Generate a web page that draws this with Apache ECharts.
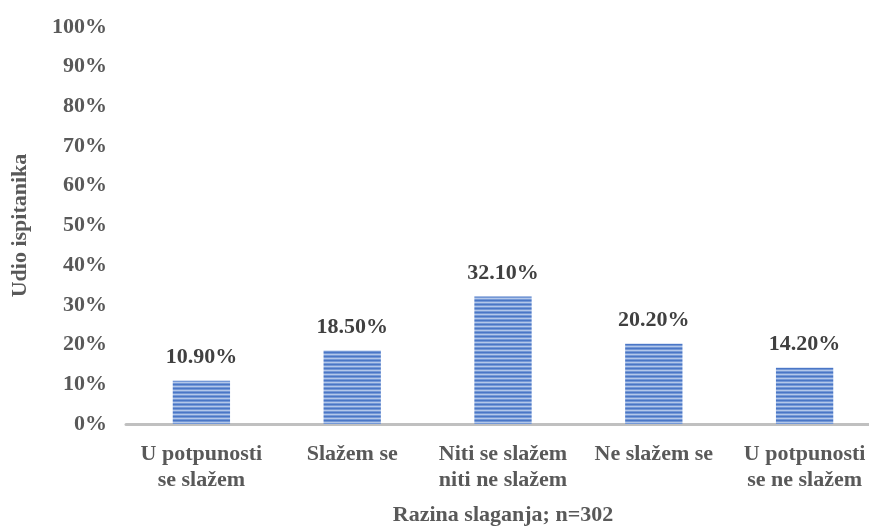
<!DOCTYPE html>
<html>
<head>
<meta charset="utf-8">
<script src="https://cdn.jsdelivr.net/npm/echarts@6/dist/echarts.min.js"></script>
<style>
  html, body { margin: 0; padding: 0; background: #fff; }
  #chart { width: 869px; height: 527px; }
</style>
</head>
<body>
<div id="chart"></div>
<script>
const categories = ['U potpunosti\nse slažem', 'Slažem se', 'Niti se slažem\nniti ne slažem', 'Ne slažem se', 'U potpunosti\nse ne slažem'];
const shares = [10.9, 18.5, 32.1, 20.2, 14.2];

// striped fill like the original bars
function stripes() {
  const c = document.createElement('canvas');
  c.width = 4; c.height = 4;
  const g = c.getContext('2d');
  const rows = ['#4a76c6', '#7498d6', '#b3c7ea', '#7498d6'];
  rows.forEach((col, i) => { g.fillStyle = col; g.fillRect(0, i, 4, 1); });
  return c;
}

const font = '"Liberation Serif", "Times New Roman", serif';
const chart = echarts.init(document.getElementById('chart'));
chart.setOption({
  animation: false,
  grid: { left: 126, top: 27, width: 754, bottom: 103, containLabel: false, outerBoundsMode: 'none' },
  xAxis: {
    type: 'category',
    data: categories,
    name: 'Razina slaganja; n=302',
    nameLocation: 'middle',
    nameGap: 80,
    nameTextStyle: { fontFamily: font, fontWeight: 'bold', fontSize: 22, color: '#595959' },
    axisLine: { lineStyle: { color: '#c0c0c0', width: 3 } },
    axisTick: { show: false },
    axisLabel: { fontFamily: font, fontWeight: 'bold', fontSize: 22, color: '#595959', margin: 17, lineHeight: 26, interval: 0 }
  },
  yAxis: {
    type: 'value',
    min: 0, max: 100, interval: 10,
    name: 'Udio ispitanika',
    nameLocation: 'middle',
    nameGap: 95,
    nameTextStyle: { fontFamily: font, fontWeight: 'bold', fontSize: 22, color: '#595959' },
    axisLine: { show: false },
    axisTick: { show: false },
    splitLine: { show: false },
    axisLabel: { fontFamily: font, fontWeight: 'bold', fontSize: 22, color: '#595959', margin: 19, formatter: '{value}%' }
  },
  series: [{
    type: 'bar',
    data: shares,
    barWidth: '38%',
    itemStyle: { color: { image: stripes(), repeat: 'repeat' } },
    label: {
      show: true, position: 'top', distance: 12,
      fontFamily: font, fontWeight: 'bold', fontSize: 22, color: '#404040',
      formatter: p => p.value.toFixed(2) + '%'
    }
  }]
});
</script>
</body>
</html>
